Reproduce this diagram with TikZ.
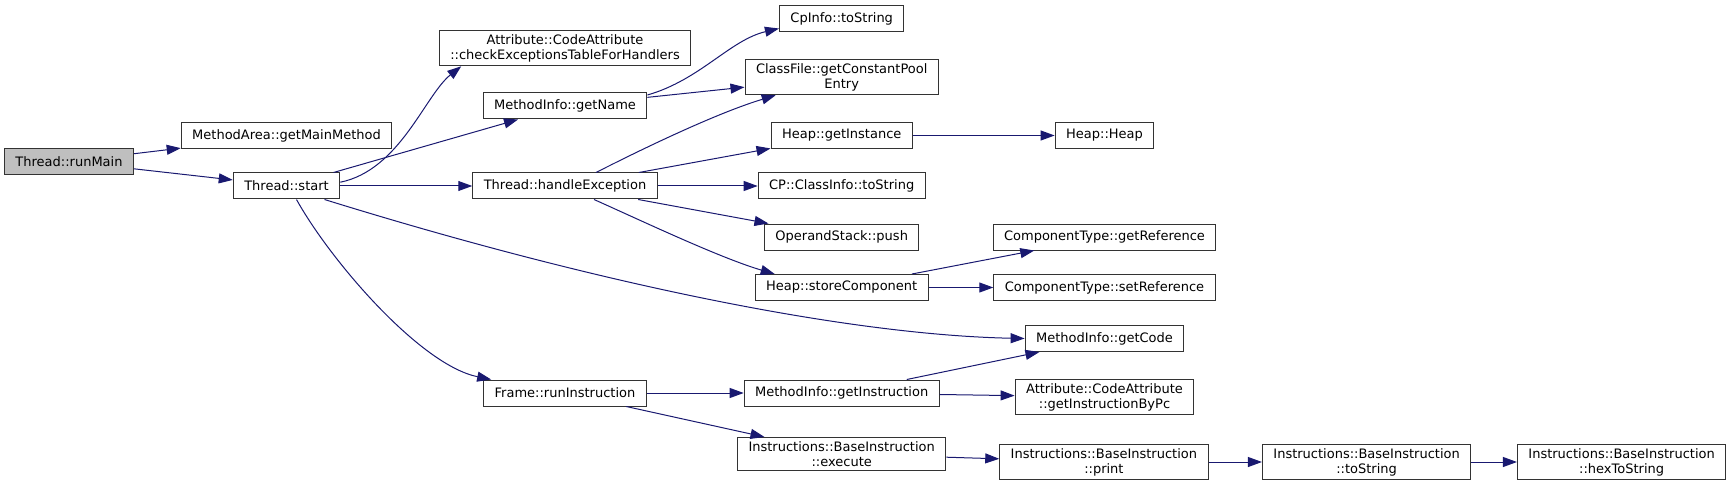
\documentclass[tikz,border=0pt]{standalone}
\usepackage{fontspec}
\setmainfont{DejaVu Sans}
\usetikzlibrary{positioning, arrows.meta}
\definecolor{midnightblue}{HTML}{191970}
\definecolor{rootgray}{HTML}{BFBFBF}

\tikzset{
  func/.style={draw=black!80, line width=1pt, fill=white, inner xsep=11pt,
    inner ysep=4pt, minimum height=26pt, align=center,
    font=\fontsize{13}{15}\selectfont},
  call/.style={draw=midnightblue, line width=1pt,
    -{Triangle[length=14pt, width=10pt]}}
}

\begin{document}
\begin{tikzpicture}
[x=1pt, y=1pt, on grid]
\useasboundingbox (0,0) rectangle (1731,-489);

\node [func, fill=rootgray] (run_main) at (69,-161.5) {Thread::runMain};
\node [func, above right=26pt and 217.5pt of run_main] (get_main_method) {MethodArea::getMainMethod};
\node [func, below right=24.5pt and 217.5pt of run_main] (thread_start) {Thread::start};

\node [func, right=278.5pt of thread_start] (handle_exception) {Thread::handleException};
\node [func, above=80pt of handle_exception] (get_name) {MethodInfo::getName};
\node [func, above=58pt of get_name] (check_handlers) {Attribute::CodeAttribute\\::checkExceptionsTableForHandlers};
\node [func, below=207pt of handle_exception] (run_instruction) {Frame::runInstruction};

\node [func, right=276.7pt of handle_exception] (class_info_string) {CP::ClassInfo::toString};
\node [func, above=50.5pt of class_info_string] (get_instance) {Heap::getInstance};
\node [func, above=109pt of class_info_string] (pool_entry) {ClassFile::getConstantPool\\Entry};
\node [func, above=167.5pt of class_info_string] (cp_info_string) {CpInfo::toString};
\node [func, below=51pt of class_info_string] (stack_push) {OperandStack::push};
\node [func, below=101.5pt of class_info_string] (store_component) {Heap::storeComponent};
\node [func, right=276.7pt of run_instruction] (get_instruction) {MethodInfo::getInstruction};
\node [func, below=61pt of get_instruction] (base_execute) {Instructions::BaseInstruction\\::execute};

\node [func, right=262.8pt of get_instance] (heap_heap) {Heap::Heap};
\node [func, right=262.8pt of stack_push] (get_reference) {ComponentType::getReference};
\node [func, right=262.8pt of store_component] (set_reference) {ComponentType::setReference};
\node [func, below=51pt of set_reference] (get_code) {MethodInfo::getCode};
\node [func, below right=4pt and 262.8pt of get_instruction] (instruction_by_pc) {Attribute::CodeAttribute\\::getInstructionByPc};
\node [func, below right=8pt and 262.2pt of base_execute] (base_print) {Instructions::BaseInstruction\\::print};
\node [func, right=262.7pt of base_print] (base_to_string) {Instructions::BaseInstruction\\::toString};
\node [func, right=255pt of base_to_string] (base_hex_string) {Instructions::BaseInstruction\\::hexToString};

\draw [call] (run_main) -- (get_main_method);
\draw [call] (run_main) -- (thread_start);

\draw [call] (thread_start.4) .. controls (400,-170) and (425,-95) .. (check_handlers.190.7);
\draw [call] (thread_start) -- (get_name);
\draw [call] (thread_start) -- (handle_exception);
\draw [call] ([xshift=38pt]thread_start.south) .. controls (600,-285) and (850,-335) .. (get_code.west);
\draw [call] ([xshift=10pt]thread_start.south) .. controls (330,-260) and (420,-365) .. ([xshift=8pt]run_instruction.north west);

\draw [call] ([yshift=11pt]get_name.east) .. controls (700,-80) and (730,-40) .. ([yshift=-10pt]cp_info_string.west);
\draw [call] (get_name) -- (pool_entry);

\draw [call] ([xshift=31pt]handle_exception.north) .. controls (650,-145) and (720,-112) .. ([xshift=-66pt]pool_entry.south);
\draw [call] (handle_exception) -- (get_instance);
\draw [call] (handle_exception) -- (class_info_string);
\draw [call] (handle_exception) -- (stack_push);
\draw [call] ([xshift=29pt]handle_exception.south) .. controls (640,-220) and (720,-258) .. ([xshift=-67pt]store_component.north);

\draw [call] (get_instance) -- (heap_heap);
\draw [call] (store_component) -- (get_reference);
\draw [call] (store_component) -- (set_reference);

\draw [call] (run_instruction) -- (get_instruction);
\draw [call] (run_instruction) -- (base_execute);
\draw [call] (get_instruction) -- (get_code);
\draw [call] (get_instruction) -- (instruction_by_pc);
\draw [call] (base_execute) -- (base_print);
\draw [call] (base_print) -- (base_to_string);
\draw [call] (base_to_string) -- (base_hex_string);

\end{tikzpicture}
\end{document}
